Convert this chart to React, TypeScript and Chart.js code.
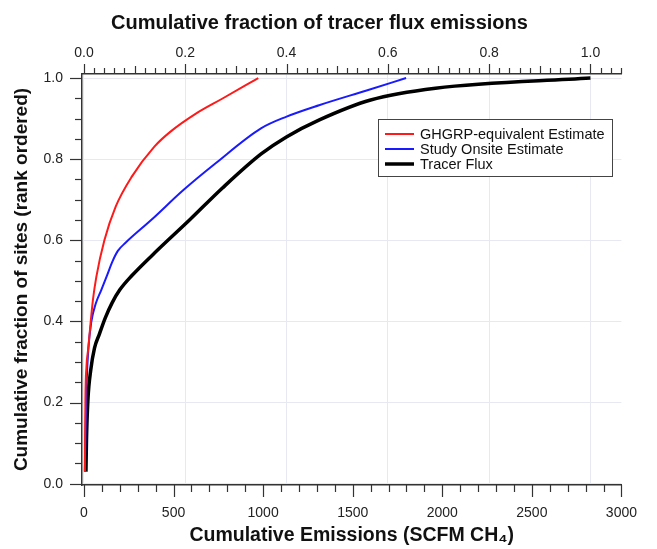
import React, { useEffect, useRef } from "react";
import { Chart, registerables } from "chart.js";

Chart.register(...registerables);

// ---- Data ----
const TOTAL_TRACER = 2827; // SCFM at which the top axis reads 1.0

const ghgrpX = [5, 8, 14, 23, 50, 69, 114, 177, 267, 393, 483, 627, 771, 973];
const ghgrpY = [0.03, 0.207, 0.289, 0.33, 0.453, 0.51, 0.6, 0.683, 0.757, 0.831, 0.868, 0.913, 0.949, 1.0];

const onsiteX = [5, 9, 15, 24, 41, 65, 97, 130, 158, 189, 232, 375, 555, 735, 988, 1131, 1312, 1582, 1798];
const onsiteY = [0.03, 0.133, 0.249, 0.33, 0.399, 0.443, 0.478, 0.515, 0.547, 0.574, 0.594, 0.65, 0.724, 0.79, 0.876, 0.905, 0.933, 0.97, 1.0];

const tracerX = [11, 14, 22, 38, 59, 86, 119, 157, 200, 265, 411, 589, 773, 989, 1130, 1314, 1600, 1962, 2827];
const tracerY = [0.03, 0.108, 0.207, 0.281, 0.335, 0.369, 0.409, 0.446, 0.478, 0.512, 0.576, 0.65, 0.729, 0.813, 0.855, 0.897, 0.946, 0.975, 1.0];

const seriesLabels = ["GHGRP-equivalent Estimate", "Study Onsite Estimate", "Tracer Flux"];
const seriesColors = ["#ff1a1a", "#1a1aff", "#000000"];
const seriesWidths = [2, 2, 3.5];

const bottomTicks = [0, 500, 1000, 1500, 2000, 2500, 3000];
const topTicks = [0, 0.2, 0.4, 0.6, 0.8, 1.0];
const leftTicks = [0, 0.2, 0.4, 0.6, 0.8, 1.0];

const FONT = "'Liberation Sans', Arial, Helvetica, sans-serif";

const toPoints = (xs: number[], ys: number[]) => xs.map((x, i) => ({ x, y: ys[i] }));

const decorPlugin = {
  id: "decor",
  afterDraw(chart: any) {
    const ctx = chart.ctx as CanvasRenderingContext2D;
    const { left, top, bottom } = chart.chartArea;
    const xs = chart.scales.x;
    const x2 = chart.scales.x2;
    const ys = chart.scales.y;
    ctx.save();
    ctx.strokeStyle = "#333";
    ctx.lineWidth = 1.2;
    const line = (a: number, b: number, c: number, d: number) => {
      ctx.beginPath();
      ctx.moveTo(a, b);
      ctx.lineTo(c, d);
      ctx.stroke();
    };
    // bottom ticks: major 500, minor 100
    for (let v = 0; v <= 3000; v += 100) {
      const px = Math.round(xs.getPixelForValue(v)) + 0.5;
      const len = v % 500 === 0 ? 12 : 7;
      line(px, bottom, px, bottom + len);
    }
    // top ticks: major 0.2, medium 0.1, minor 0.02
    for (let i = 0; i <= 60; i++) {
      const v = i * 0.02;
      if (v > x2.max + 1e-9) break;
      const px = Math.round(x2.getPixelForValue(v)) + 0.5;
      const len = i % 10 === 0 ? 10 : i % 5 === 0 ? 8 : 6;
      line(px, top, px, top - len);
    }
    // left ticks: major 0.2, minor 0.05
    for (let i = 0; i <= 20; i++) {
      const v = i * 0.05;
      const py = Math.round(ys.getPixelForValue(v)) + 0.5;
      const len = i % 4 === 0 ? 12 : 7;
      line(left, py, left - len, py);
    }
    // legend box
    const bx = 378.5, by = 119.5, bw = 234, bh = 57;
    ctx.fillStyle = "#ffffff";
    ctx.fillRect(bx, by, bw, bh);
    ctx.strokeStyle = "#444";
    ctx.lineWidth = 1;
    ctx.strokeRect(bx, by, bw, bh);
    ctx.font = `14.5px ${FONT}`;
    ctx.textBaseline = "middle";
    ctx.textAlign = "left";
    chart.data.datasets.forEach((ds: any, i: number) => {
      const yy = 134 + i * 15;
      ctx.strokeStyle = ds.borderColor;
      ctx.lineWidth = ds.borderWidth;
      line(385, yy, 414, yy);
      ctx.fillStyle = "#111";
      ctx.fillText(ds.label, 420, yy + 0.5);
    });
    ctx.restore();
  },
};

export default function App() {
  const ref = useRef<HTMLCanvasElement | null>(null);

  useEffect(() => {
    if (!ref.current) return;
    const tickFont = { family: FONT, size: 14 };
    const titleFont = { family: FONT, size: 20, weight: "bold" as const };
    const xTitleFont = { family: FONT, size: 19.5, weight: "bold" as const };
    const yTitleFont = { family: FONT, size: 19, weight: "bold" as const };
    const gridColor = "#e6e9f1";
    const setTicks = (vals: number[]) => (s: any) => {
      s.ticks = vals.map((value) => ({ value }));
    };
    const chart = new Chart(ref.current, {
      type: "line",
      data: {
        datasets: [
          { label: seriesLabels[0], data: toPoints(ghgrpX, ghgrpY) },
          { label: seriesLabels[1], data: toPoints(onsiteX, onsiteY) },
          { label: seriesLabels[2], data: toPoints(tracerX, tracerY) },
        ].map((d, i) => ({
          ...d,
          borderColor: seriesColors[i],
          backgroundColor: seriesColors[i],
          borderWidth: seriesWidths[i],
          pointRadius: 0,
          fill: false,
          cubicInterpolationMode: "monotone" as const,
          xAxisID: "x",
          yAxisID: "y",
        })),
      },
      options: {
        animation: false,
        responsive: false,
        maintainAspectRatio: false,
        parsing: false as any,
        layout: { padding: { left: 0, right: 18, top: 0, bottom: 0 } },
        plugins: {
          legend: { display: false },
          tooltip: { enabled: false },
          title: {
            display: true,
            text: "Cumulative fraction of tracer flux emissions",
            font: titleFont,
            color: "#111",
            padding: { top: 11, bottom: 4 },
          },
        },
        scales: {
          x: {
            type: "linear",
            position: "bottom",
            min: -11,
            max: 3000,
            afterBuildTicks: setTicks(bottomTicks),
            afterFit: (s: any) => {
              s.height = 64;
            },
            grid: { display: false, drawTicks: false },
            border: { display: true, color: "#333", width: 1.5 },
            ticks: {
              padding: 20,
              font: tickFont,
              color: "#222",
              maxRotation: 0,
              autoSkip: false,
              callback: (v: any) => String(v),
            },
            title: {
              display: true,
              text: "Cumulative Emissions (SCFM CH₄)",
              font: xTitleFont,
              color: "#111",
              padding: { top: 0, bottom: 1.5 },
            },
          },
          x2: {
            type: "linear",
            position: "top",
            min: -11 / TOTAL_TRACER,
            max: 3000 / TOTAL_TRACER,
            afterBuildTicks: setTicks(topTicks),
            afterFit: (s: any) => {
              s.height = 35;
            },
            grid: { color: gridColor, drawTicks: false, lineWidth: 1 },
            border: { display: true, color: "#333", width: 1.5 },
            ticks: {
              padding: 12,
              font: tickFont,
              color: "#222",
              maxRotation: 0,
              autoSkip: false,
              callback: (v: any) => Number(v).toFixed(1),
            },
          },
          y: {
            type: "linear",
            min: -0.003,
            max: 1.01,
            afterBuildTicks: setTicks(leftTicks),
            afterFit: (s: any) => {
              s.width = 82;
            },
            grid: { color: gridColor, drawTicks: false, lineWidth: 1 },
            border: { display: true, color: "#333", width: 1.5 },
            ticks: {
              padding: 19,
              font: tickFont,
              color: "#222",
              autoSkip: false,
              callback: (v: any) => Number(v).toFixed(1),
            },
            title: {
              display: true,
              text: "Cumulative fraction of sites (rank ordered)",
              font: yTitleFont,
              color: "#111",
              padding: { top: 10.5, bottom: 0 },
            },
          },
        },
      },
      plugins: [decorPlugin],
    });
    return () => chart.destroy();
  }, []);

  return (
    <div style={{ position: "absolute", left: 0, top: 0, width: 657, height: 549, background: "#fff" }}>
      <canvas ref={ref} width={657} height={549} style={{ display: "block" }} />
    </div>
  );
}
